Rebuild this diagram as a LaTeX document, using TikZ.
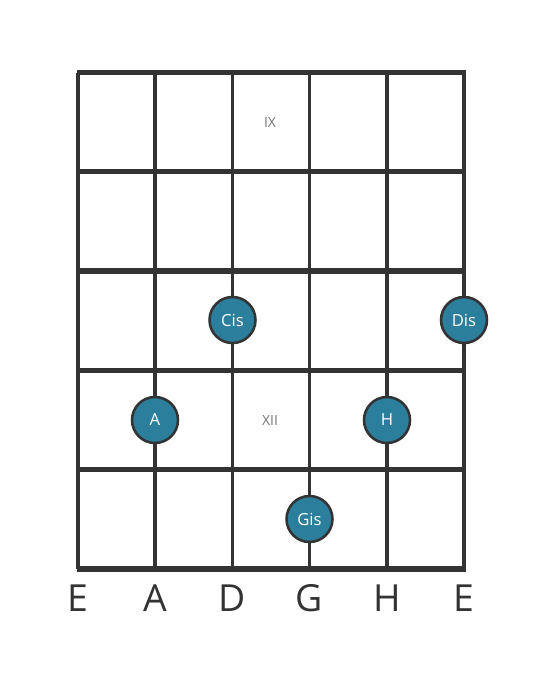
\documentclass[tikz,border=0pt]{standalone}
\usepackage{fontspec}
\setmainfont{Open Sans}
\definecolor{grid}{HTML}{333333}
\definecolor{dot}{HTML}{2B7F9C}
\definecolor{roman}{HTML}{777777}
\begin{document}
\begin{tikzpicture}[x=0.75pt,y=-0.75pt,
  stringline/.style={draw=grid,line width=2.3pt},
  fretline/.style={draw=grid,line width=3.8pt},
  note/.style={circle,draw=grid,line width=1.9pt,fill=dot,minimum size=34.5pt,inner sep=0pt,text=white,font=\fontsize{12.5}{14}\selectfont},
  strname/.style={text=grid,font=\fontsize{28}{30}\selectfont},
  fretnum/.style={text=roman,font=\fontsize{10.5}{12}\selectfont}]
\useasboundingbox (0,0) rectangle (559,682);
% string coordinates
\foreach \n/\x in {1/78,2/155,3/232.5,4/309.5,5/387,6/464}{
  \coordinate (t\n) at (\x,72.5);
  \coordinate (b\n) at (\x,569);
}
\foreach \n in {1,...,6}{\draw[stringline] (t\n) -- (b\n);}
\foreach \f/\y in {0/72.5,1/171.8,2/271,3/370.3,4/469.5,5/569}{
  \coordinate (l\f) at (76.5,\y);
  \coordinate (r\f) at (465.5,\y);
  \draw[fretline] (l\f) -- (r\f);
}
\node[fretnum] (ix) at (270,123) {IX};
\node[fretnum] (xii) at (270,420) {XII};
\node[note] (cis) at (232.5,320) {Cis};
\node[note] (dis) at (464,320) {Dis};
\node[note] (a) at (155,420) {A};
\node[note] (h) at (387,420) {H};
\node[note] (gis) at (309.5,519) {Gis};
\foreach \n/\x/\t in {1/78/E,2/155/A,3/232.5/D,4/309.5/G,5/387/H,6/464/E}{
  \node[strname] (s\n) at (\x,598) {\t};
}
\end{tikzpicture}
\end{document}
